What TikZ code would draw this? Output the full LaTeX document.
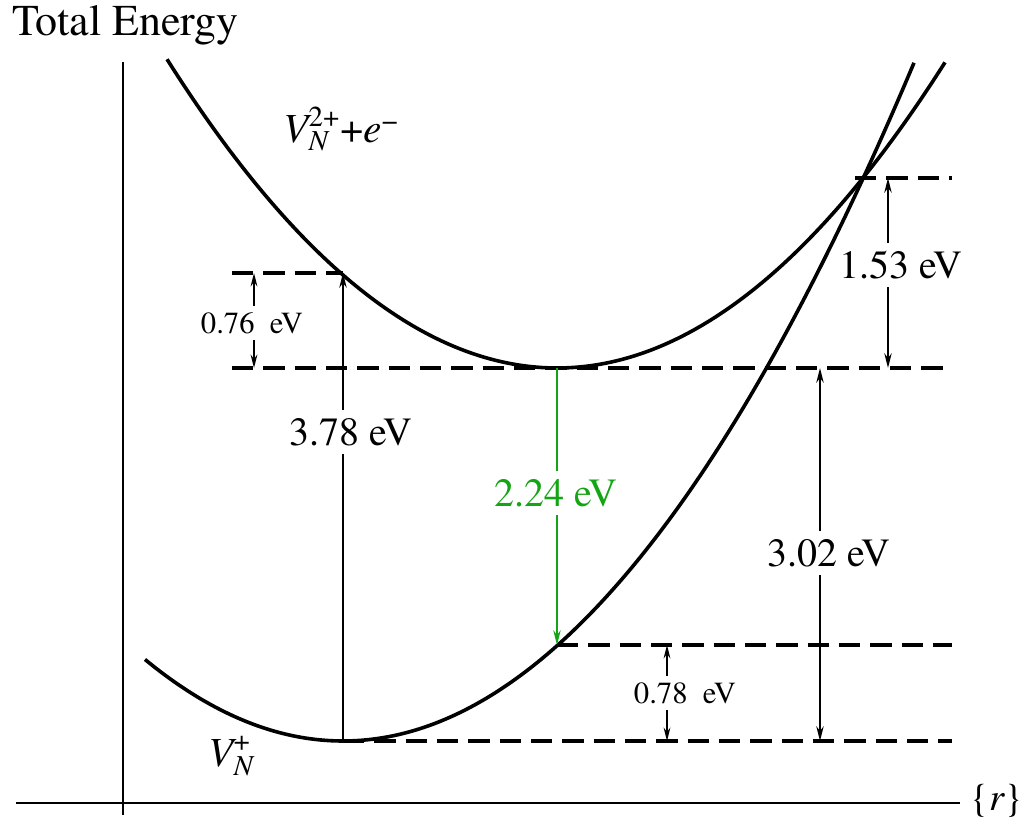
\documentclass[tikz,border=0pt]{standalone}
\usepackage{fontspec}
\usepackage{amsmath}
\setmainfont{texgyretermes}[Extension=.otf, UprightFont=*-regular, ItalicFont=*-italic, BoldFont=*-bold, BoldItalicFont=*-bolditalic]
\usetikzlibrary{arrows.meta}
\definecolor{lgreen}{RGB}{20,165,20}
\begin{document}
\begin{tikzpicture}[x=0.75pt,y=-0.75pt,
  curve/.style={line width=2.7pt},
  axis/.style={line width=1.9pt},
  level/.style={line width=2.3pt, dash pattern=on 16pt off 7.5pt},
  dimbig/.style={line width=1.7pt, {Stealth[length=11pt,width=5.5pt]}-{Stealth[length=11pt,width=5.5pt]}},
  dimsmall/.style={line width=1.5pt, {Stealth[length=10pt,width=5pt]}-{Stealth[length=10pt,width=5pt]}},
  uparrow/.style={line width=1.7pt, -{Stealth[length=11pt,width=5.5pt]}},
  greenarrow/.style={line width=1.7pt, draw=lgreen, -{Stealth[length=11pt,width=5.5pt]}},
  biglabel/.style={font=\fontsize{30}{36}\selectfont, fill=white, inner xsep=1pt, inner ysep=6pt},
  smalllabel/.style={font=\fontsize{23}{28}\selectfont, fill=white, inner xsep=1pt, inner ysep=5pt},
  mathlabel/.style={font=\fontsize{31}{37}\selectfont, inner sep=0pt},
]
\useasboundingbox (0,0) rectangle (1026,828);

% axes
\coordinate (ytop) at (123,62);
\coordinate (ybot) at (123,815);
\coordinate (xl) at (16,803);
\coordinate (xr) at (960,803);
\draw[axis] (ybot) -- (ytop);
\draw[axis] (xl) -- (xr);

% key points
\coordinate (UA) at (343,273);
\coordinate (UM) at (557,368);
\coordinate (LM) at (343,741);
\coordinate (LG) at (557,645);
\coordinate (X)  at (863,178);

% dashed levels
\coordinate (d1) at (232,273);
\coordinate (d2a) at (232,368); \coordinate (d2b) at (952,368);
\coordinate (d3a) at (855,178); \coordinate (d3b) at (952,178);
\coordinate (d4b) at (952,645);
\coordinate (d5b) at (952,741);
\draw[level] (d1) -- (UA);
\draw[level] (d2a) -- (d2b);
\draw[level] (d3a) -- (d3b);
\draw[level] (LG) -- (d4b);
\draw[level] (LM) -- (d5b);

% curves
\draw[curve] plot[domain=167:945, samples=150] (\x, {368-((\x-557)/22.195)^2});
\draw[curve] plot[domain=145:914, samples=150] (\x, {741-((\x-343)/21.926)^2});

% arrows
\draw[uparrow] (LM) -- (UA);
\draw[greenarrow] (UM) -- (LG);
\coordinate (a076t) at (254,273); \coordinate (a076b) at (254,368);
\coordinate (a153t) at (888,178); \coordinate (a153b) at (888,368);
\coordinate (a302t) at (820,368); \coordinate (a302b) at (820,741);
\coordinate (a078t) at (667,645); \coordinate (a078b) at (667,741);
\draw[dimsmall] (a076t) -- (a076b);
\draw[dimbig] (a153t) -- (a153b);
\draw[dimbig] (a302t) -- (a302b);
\draw[dimsmall] (a078t) -- (a078b);

% labels
\node[biglabel] (l378) at (351,432) {3.78 eV};
\node[biglabel, text=lgreen] (l224) at (556,493) {2.24 eV};
\node[biglabel] (l153) at (901,265) {1.53 eV};
\node[biglabel] (l302) at (829,553) {3.02 eV};
\node[smalllabel] (l076) at (252,323) {0.76\ \ eV};
\node[smalllabel] (l078) at (685,693) {0.78\ \ eV};

\node[font=\fontsize{33}{39}\selectfont, anchor=base west, inner sep=0pt] (title) at (12,36) {Total Energy};
\node[mathlabel] (upper) at (341,129) {$\textit{V}^{\text{2+}}_{\textit{N}}\text{+}\textit{e}^{\text{−}}$};
\node[mathlabel] (lower) at (231,756) {$\textit{V}^{\text{+}}_{\textit{N}}$};
\node[font=\fontsize{29}{35}\selectfont, inner sep=0pt] (r) at (997,801) {\{\textit{r}\}};
\end{tikzpicture}
\end{document}
